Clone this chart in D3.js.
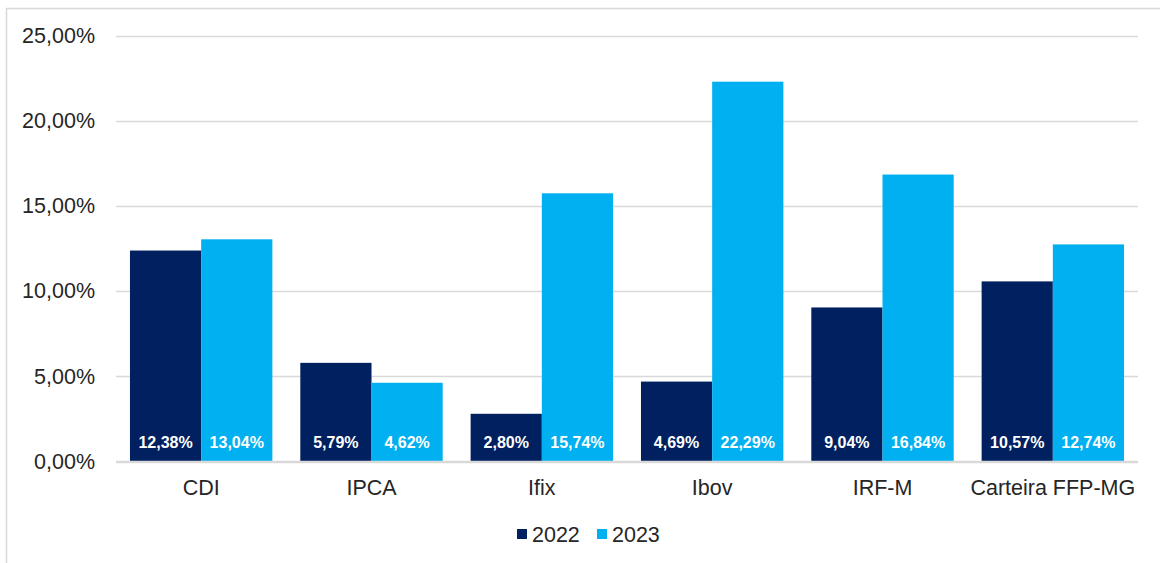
<!DOCTYPE html>
<html><head><meta charset="utf-8">
<script src="https://cdn.jsdelivr.net/npm/d3@7"></script>
<style>body{margin:0;background:#fff;}svg{display:block;font-family:"Liberation Sans",Arial,sans-serif;}</style>
</head><body>
<svg id="c" width="1160" height="563"></svg>
<script>
const categories = ["CDI","IPCA","Ifix","Ibov","IRF-M","Carteira FFP-MG"];
const series = ["2022","2023"];
const values2022 = [12.38,5.79,2.80,4.69,9.04,10.57];
const values2023 = [13.04,4.62,15.74,22.29,16.84,12.74];
const yTicks = [0,5,10,15,20,25];
const colors = ["#002060","#00B0F0"];

const svg = d3.select("#c");
const W = 1160, H = 563;
// chart frame
svg.append("rect").attr("x",6.5).attr("y",8.5).attr("width",W).attr("height",H).attr("fill","#fff").attr("stroke","#d9d9d9").attr("stroke-width",1.5);

const m = {left:116, right:1138, top:35.5, bottom:461.5};
const x = d3.scaleBand().domain(categories).range([m.left,m.right]).paddingInner(0.164).paddingOuter(0.082);
const xs = d3.scaleBand().domain(series).range([0,x.bandwidth()]);
const y = d3.scaleLinear().domain([0,25]).range([m.bottom,m.top]);
const fmt = v => v.toFixed(2).replace(".",",")+"%";
const FS = 21.5;

// gridlines
svg.append("g").selectAll("line").data(yTicks).join("line")
  .attr("x1",m.left).attr("x2",m.right)
  .attr("y1",d=>Math.round(y(d))+0.5).attr("y2",d=>Math.round(y(d))+0.5)
  .attr("stroke","#d9d9d9").attr("stroke-width",1.5);

// y axis
const ya = svg.append("g").attr("transform",`translate(${m.left-21},0)`)
  .call(d3.axisLeft(y).tickValues(yTicks).tickFormat(fmt).tickSize(0).tickPadding(0));
ya.select(".domain").remove();
ya.selectAll("text").attr("font-size",FS).attr("fill","#262626").attr("font-family","Liberation Sans, Arial, sans-serif");

// bars
const data = categories.map((c,i)=>({c, vals:[{s:"2022",v:values2022[i]},{s:"2023",v:values2023[i]}]}));
const g = svg.append("g").selectAll("g").data(data).join("g").attr("transform",d=>`translate(${x(d.c)},0)`);
g.selectAll("rect").data(d=>d.vals).join("rect")
  .attr("x",d=>xs(d.s)).attr("width",xs.bandwidth())
  .attr("y",d=>y(d.v)).attr("height",d=>y(0)-y(d.v))
  .attr("fill",(d,i)=>colors[i]);
g.selectAll("text").data(d=>d.vals).join("text")
  .attr("x",d=>xs(d.s)+xs.bandwidth()/2).attr("y",y(0)-14)
  .attr("text-anchor","middle").attr("font-size",16).attr("font-weight","bold").attr("fill","#fff")
  .text(d=>fmt(d.v));

// baseline
svg.append("line").attr("x1",m.left).attr("x2",m.right).attr("y1",y(0)).attr("y2",y(0)).attr("stroke","#d9d9d9").attr("stroke-width",1.5);

// x axis
const xa = svg.append("g").attr("transform",`translate(0,${m.bottom})`)
  .call(d3.axisBottom(x).tickSize(0).tickPadding(18));
xa.select(".domain").remove();
xa.selectAll("text").attr("font-size",FS).attr("fill","#262626").attr("font-family","Liberation Sans, Arial, sans-serif");

// legend
const leg = svg.append("g").attr("transform","translate(517,534)");
const li = leg.selectAll("g").data(series).join("g").attr("transform",(d,i)=>`translate(${i*80},0)`);
li.append("rect").attr("x",0).attr("y",-5).attr("width",10).attr("height",10).attr("fill",(d,i)=>colors[i]);
li.append("text").attr("x",15).attr("y",8).attr("font-size",FS).attr("fill","#262626").text(d=>d);
</script>
</body></html>
